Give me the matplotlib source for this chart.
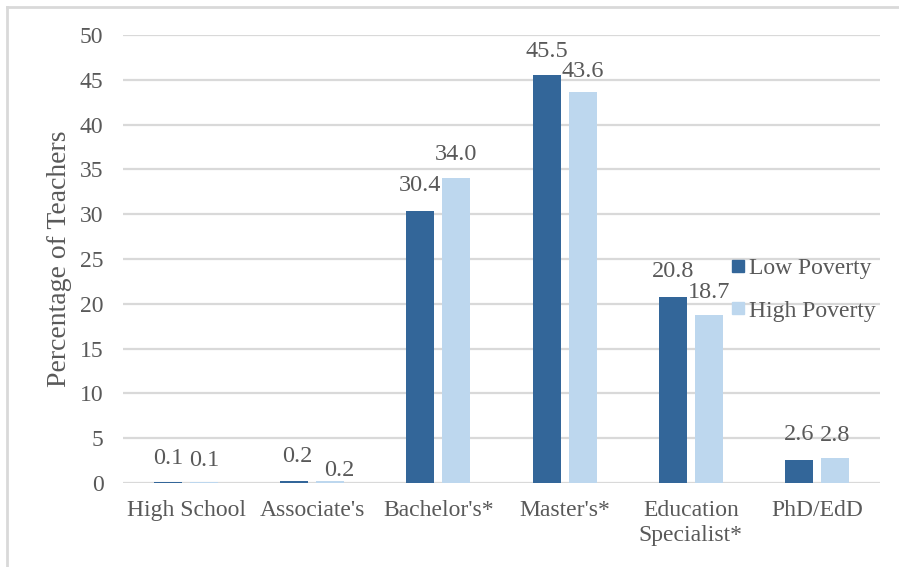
import numpy as np
import matplotlib
matplotlib.use("Agg")
import matplotlib.pyplot as plt
from matplotlib.lines import Line2D

categories = ["High School", "Associate's", "Bachelor's*", "Master's*",
              "Education\nSpecialist*", "PhD/EdD"]
low_poverty = [0.1, 0.2, 30.4, 45.5, 20.8, 2.6]
high_poverty = [0.1, 0.2, 34.0, 43.6, 18.7, 2.8]
series_names = ["Low Poverty", "High Poverty"]

# label nudges in pixels (Excel had a few moved by hand)
low_offsets = [(0, 24), (3, 25), (0, 25), (0, 24), (0, 25), (0, 25)]
high_offsets = [(0, 22), (9, 11), (0, 24), (0, 21), (0, 23), (0, 22)]

dark = "#336699"
light = "#BDD7EE"
grey_txt = "#595959"

plt.rcParams['font.family'] = ['Liberation Serif', 'DejaVu Serif']

fig = plt.figure(figsize=(8.99, 5.67), dpi=100)
ax = fig.add_axes([123/899, 1-483/567, (880-123)/899, (483-35)/567])

x = np.arange(len(categories))
w = 0.222
off = 0.143
b1 = ax.bar(x - off, low_poverty, w, color=dark, zorder=3)
b2 = ax.bar(x + off, high_poverty, w, color=light, zorder=3)

for bars, vals, offs in [(b1, low_poverty, low_offsets), (b2, high_poverty, high_offsets)]:
	for b, v, (dx, dy) in zip(bars, vals, offs):
		ax.annotate("{:.1f}".format(v), (b.get_x() + b.get_width()/2, v),
		            xytext=(dx, dy), textcoords='offset pixels',
		            ha='center', va='center', fontsize=17.5, color=grey_txt, zorder=4)

ax.set_xlim(-0.5, len(categories) - 0.5)
ax.set_ylim(0, 50)
ax.set_yticks(np.arange(0, 51, 5))
ax.set_xticks(x)
ax.set_xticklabels(categories, linespacing=1.25)
ax.yaxis.grid(True, color="#D9D9D9", linewidth=1.6, zorder=0)
ax.set_axisbelow(True)
for s in ax.spines.values():
	s.set_visible(False)
ax.tick_params(axis='both', length=0, labelsize=17, colors=grey_txt)
ax.tick_params(axis='y', pad=14)
ax.tick_params(axis='x', pad=12)
ax.set_ylabel("Percentage of Teachers", fontsize=20, color=grey_txt, labelpad=6)

handles = [Line2D([], [], marker='s', linestyle='none', markersize=9, color=c)
           for c in (dark, light)]
ax.legend(handles, series_names, loc='center right', bbox_to_anchor=(1.023, 0.432),
          frameon=False, fontsize=17, labelcolor=grey_txt, handletextpad=0.05,
          labelspacing=0.9, handlelength=0.9)

# partial chart border (only top and left edges show in the crop)
fig.add_artist(Line2D([6.5/899, 6.5/899], [0, 1-6.5/567], color="#D9D9D9", lw=2,
                      transform=fig.transFigure))
fig.add_artist(Line2D([6.5/899, 1], [1-6.5/567, 1-6.5/567], color="#D9D9D9", lw=2,
                      transform=fig.transFigure))

fig.savefig("out.png", dpi=100)
